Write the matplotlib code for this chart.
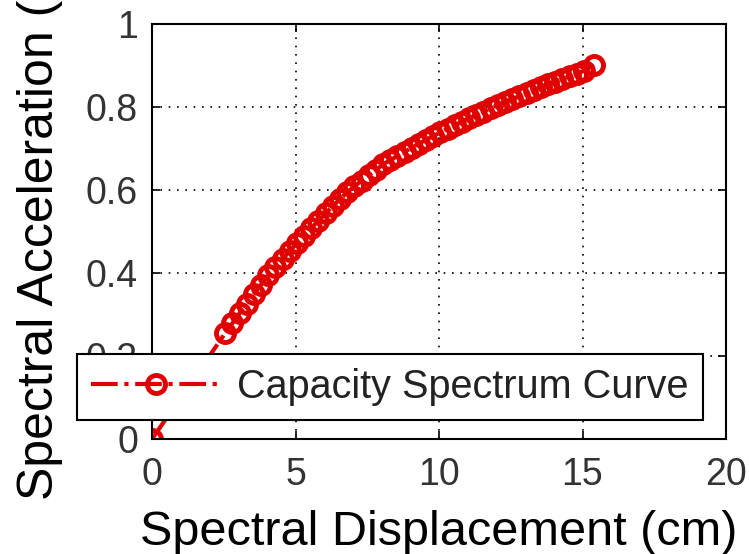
import matplotlib
matplotlib.use("Agg")
import matplotlib.pyplot as plt

plt.rcParams['font.family'] = ['Liberation Sans', 'DejaVu Sans']

sd_cm = [0.0, 2.55, 2.8, 3.05, 3.3, 3.55, 3.8, 4.05, 4.3, 4.55, 4.8, 5.05, 5.3, 5.55,
         5.8, 6.05, 6.3, 6.55, 6.8, 7.05, 7.3, 7.55, 7.8, 8.05, 8.3, 8.55, 8.8,
         9.05, 9.3, 9.55, 9.8, 10.05, 10.3, 10.55, 10.8, 11.05, 11.3, 11.55, 11.8,
         12.05, 12.3, 12.55, 12.8, 13.05, 13.3, 13.55, 13.8, 14.05, 14.3, 14.55,
         14.8, 15.05, 15.4]
sa_g = [0.0, 0.255, 0.279, 0.303, 0.326, 0.349, 0.372, 0.394, 0.414, 0.434, 0.453,
        0.472, 0.490, 0.508, 0.526, 0.544, 0.561, 0.578, 0.594, 0.609, 0.622,
        0.635, 0.648, 0.662, 0.672, 0.682, 0.692, 0.702, 0.712, 0.721, 0.730,
        0.739, 0.748, 0.756, 0.765, 0.773, 0.781, 0.789, 0.797, 0.805, 0.812,
        0.819, 0.826, 0.834, 0.841, 0.848, 0.855, 0.861, 0.868, 0.874, 0.880,
        0.887, 0.901]

x_ticks = [0, 5, 10, 15, 20]
x_ticklabels = ['0', '5', '10', '15', '20']
y_ticks = [0, 0.2, 0.4, 0.6, 0.8, 1.0]
y_ticklabels = ['0', '0.2', '0.4', '0.6', '0.8', '1']
series_label = 'Capacity Spectrum Curve'
x_label = 'Spectral Displacement (cm)'
y_label = 'Spectral Acceleration (g)'

W, H = 749, 554
fig = plt.figure(figsize=(W / 100, H / 100), dpi=100)
ax = fig.add_axes([152 / W, 1 - 439 / H, (726 - 152) / W, (439 - 24) / H])

ax.plot(sd_cm, sa_g, color='#e00000', linestyle='-.', linewidth=3,
        marker='o', markersize=13, markerfacecolor='none',
        markeredgewidth=3.5, markeredgecolor='#e00000', label=series_label)

ax.set_xlim(0, 20)
ax.set_ylim(0, 1)
ax.set_xticks(x_ticks)
ax.set_xticklabels(x_ticklabels)
ax.set_yticks(y_ticks)
ax.set_yticklabels(y_ticklabels)

ax.grid(True, linestyle=(0, (1, 4)), color='black', linewidth=1.2)
ax.tick_params(direction='in', length=6, width=1.2, top=True, right=True,
               labelsize=27, colors='black', labelcolor='#333333')
ax.tick_params(axis='x', pad=13)
ax.tick_params(axis='y', pad=10)
for s in ax.spines.values():
    s.set_linewidth(1.5)
    s.set_color('black')

ax.set_xlabel(x_label, fontsize=35, color='black', labelpad=12)
ax.set_ylabel(y_label, fontsize=36, color='black')
ax.yaxis.set_label_coords((63 - 152) / (726 - 152), (439 - 228) / (439 - 24))

leg = ax.legend(loc='center', bbox_to_anchor=(390 / W, 1 - 387 / H),
                bbox_transform=fig.transFigure, fontsize=28.5, frameon=True,
                fancybox=False, shadow=False, framealpha=1, edgecolor='black',
                handlelength=3.3, handletextpad=0.4, borderpad=0.35,
                borderaxespad=0)
leg.get_frame().set_linewidth(1.5)
for t in leg.get_texts():
    t.set_color('#222222')

fig.savefig('out.png', dpi=100)
